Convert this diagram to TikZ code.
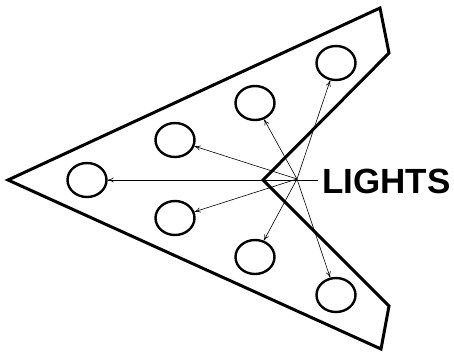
\documentclass[tikz,border=0pt]{standalone}
\usepackage{fontspec}
\setmainfont{Liberation Sans}
\usetikzlibrary{shapes.geometric,arrows.meta}
\begin{document}
\begin{tikzpicture}[x=1pt,y=-1pt,
  light/.style={ellipse,draw,line width=2.4pt,minimum width=39pt,minimum height=34pt,inner sep=0pt},
  ray/.style={line width=0.6pt,-{To[length=6pt,width=5pt]}}]
\useasboundingbox (0,0) rectangle (454,354);
% body outline
\coordinate (tip) at (8,180);
\coordinate (tr) at (380,8);
\coordinate (rn) at (389,53);
\coordinate (inner) at (263,180);
\coordinate (rs) at (389,306);
\coordinate (br) at (381,349);
\draw[line width=3pt,line join=miter] (tip) -- (tr) -- (rn) -- (inner) -- (rs) -- (br) -- cycle;
% lights
\node[light] (c1) at (87,180) {};
\node[light] (c2) at (175,140) {};
\node[light] (c3) at (175,218) {};
\node[light] (c4) at (255,103) {};
\node[light] (c5) at (255,257) {};
\node[light] (c6) at (336,63) {};
\node[light] (c7) at (336,295) {};
% label
\node[anchor=base west,inner sep=0pt,font=\fontsize{35}{35}\selectfont\bfseries] (lbl) at (322,193) {LIGHTS};
\coordinate (lead) at (318,180);
\coordinate (hub) at (297,179);
\draw[ray] (lead) -- (c1);
\draw[ray] (hub) -- (c2);
\draw[ray] (hub) -- (c3);
\draw[ray] (hub) -- (c4);
\draw[ray] (hub) -- (c5);
\draw[ray] (hub) -- (c6);
\draw[ray] (hub) -- (c7);
\end{tikzpicture}
\end{document}
